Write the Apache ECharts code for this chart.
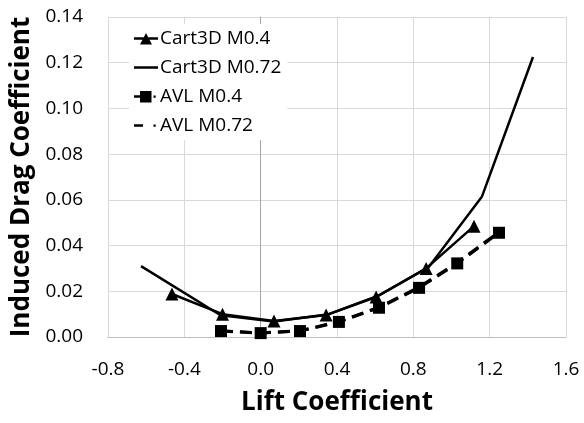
<!DOCTYPE html>
<html>
<head>
<meta charset="utf-8">
<script src="https://cdn.jsdelivr.net/npm/echarts@6/dist/echarts.min.js"></script>
<style>
html,body{margin:0;padding:0;background:#fff;}
#chart{width:584px;height:423px;}
</style>
</head>
<body>
<div id="chart"></div>
<script>
// data
var cartM04 = [[-0.465, 0.0188], [-0.20, 0.0100], [0.07, 0.0070], [0.343, 0.0096], [0.605, 0.0175], [0.867, 0.0300], [1.118, 0.0485]];
var cartM072 = [[-0.627, 0.0310], [-0.21, 0.0095], [0.07, 0.0068], [0.35, 0.0098], [0.62, 0.0182], [0.88, 0.0305], [1.16, 0.0615], [1.427, 0.1225]];
var avlM04 = [[-0.208, 0.0026], [0.0, 0.0017], [0.206, 0.0026], [0.41, 0.0066], [0.62, 0.0128], [0.83, 0.0215], [1.03, 0.0322], [1.249, 0.0456]];
var avlM072 = [[-0.208, 0.0027], [0.0, 0.0018], [0.206, 0.0027], [0.41, 0.0068], [0.62, 0.0130], [0.83, 0.0218], [1.03, 0.0326], [1.249, 0.0460]];
var seriesNames = ['Cart3D M0.4', 'Cart3D M0.72', 'AVL M0.4', 'AVL M0.72'];

var font = '"Open Sans", "Noto Sans", sans-serif';

// legend icons drawn in a 24x14 box (tiny corner specks fix the box size)
var box = 'M0,0h0.01v0.01h-0.01zM24,14h-0.01v-0.01h0.01z';
var icons = [
    'path://' + box + 'M0,5.75h24v2.5h-24zM6,13L12,1.5L18,13z',
    'path://' + box + 'M0,5.75h24v2.5h-24z',
    'path://' + box + 'M0,5.75h6v2.5h-6zM6,1.5h11.5v11.5h-11.5zM19.5,6h2.2v2.2h-2.2z',
    'path://' + box + 'M0,5.75h9v2.5h-9zM19.5,6h2.2v2.2h-2.2z'
];

var mycharts = echarts.init(document.getElementById('chart'));

var optionObj = {
    animation: false,
    backgroundColor: '#fff',
    grid: { left: 108, right: 18, top: 17, bottom: 86 },
    legend: {
        data: seriesNames.map(function (n, i) { return { name: n, icon: icons[i] }; }),
        orient: 'vertical',
        left: 129,
        top: 24,
        itemGap: 10,
        itemWidth: 24,
        itemHeight: 14,
        padding: [5, 6, 5, 5],
        backgroundColor: '#fff',
        itemStyle: { color: '#000' },
        textStyle: { fontFamily: font, fontSize: 19, color: '#000', padding: [0, 0, 0, -3] }
    },
    xAxis: {
        type: 'value',
        min: -0.8, max: 1.6, interval: 0.4,
        name: 'Lift Coefficient',
        nameLocation: 'middle',
        nameGap: 53,
        nameTextStyle: { fontFamily: font, fontSize: 26, fontWeight: 'bold', color: '#000' },
        axisLine: { onZero: true, lineStyle: { color: '#bfbfbf', width: 1 } },
        axisTick: { show: false },
        axisLabel: { fontFamily: font, fontSize: 19, color: '#000', margin: 23,
            formatter: function (v) { return v.toFixed(1); } },
        splitLine: { lineStyle: { color: '#d9d9d9', width: 1 } }
    },
    yAxis: {
        type: 'value',
        min: 0, max: 0.14, interval: 0.02,
        name: 'Induced Drag Coefficient',
        nameLocation: 'middle',
        nameGap: 63,
        nameTextStyle: { fontFamily: font, fontSize: 26, fontWeight: 'bold', color: '#000' },
        axisLine: { show: true, onZero: true, lineStyle: { color: '#a6a6a6', width: 1 } },
        axisTick: { show: false },
        axisLabel: { fontFamily: font, fontSize: 19, color: '#000', margin: 25, showMaxLabel: true,
            formatter: function (v) { return v.toFixed(2); } },
        splitLine: { lineStyle: { color: '#d9d9d9', width: 1 } }
    },
    series: [
        {
            name: seriesNames[0], type: 'line', data: cartM04, z: 4,
            symbol: 'triangle', symbolSize: 13,
            itemStyle: { color: '#000' },
            lineStyle: { color: '#000', width: 2.5 }
        },
        {
            name: seriesNames[1], type: 'line', data: cartM072, z: 3,
            symbol: 'none', showSymbol: false,
            itemStyle: { color: '#000' },
            lineStyle: { color: '#000', width: 2.5 }
        },
        {
            name: seriesNames[2], type: 'line', data: avlM04, z: 4,
            symbol: 'rect', symbolSize: 12,
            itemStyle: { color: '#000' },
            lineStyle: { color: '#000', width: 3, type: [12, 7] }
        },
        {
            name: seriesNames[3], type: 'line', data: avlM072, z: 3,
            symbol: 'none', showSymbol: false,
            itemStyle: { color: '#000' },
            lineStyle: { color: '#000', width: 3, type: [12, 7] }
        }
    ]
};

mycharts.setOption(optionObj);
</script>
</body>
</html>
